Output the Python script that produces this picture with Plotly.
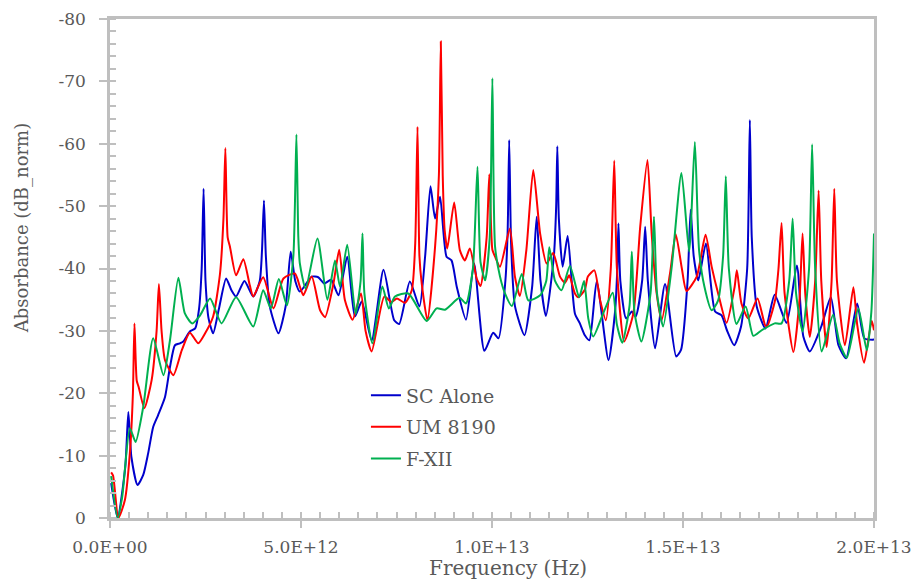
import plotly.graph_objects as go
import numpy as np

# Frequency in THz, absorbance in dB_norm (negative values)
sc_f = [0.03, 0.2, 0.4, 0.48, 0.56, 0.72, 0.87, 1.0, 1.13, 1.26, 1.44, 1.57, 1.70, 1.83, 1.92, 2.09, 2.23,
        2.33, 2.40, 2.45, 2.50, 2.58, 2.70, 2.85, 3.04, 3.18, 3.30, 3.52, 3.75, 3.92, 3.98, 4.03, 4.08, 4.18,
        4.41, 4.60, 4.73, 4.85, 4.97, 5.28, 5.45, 5.61, 5.79, 5.98, 6.21, 6.41, 6.59, 6.85, 7.16, 7.44, 7.57,
        7.85, 8.10, 8.25, 8.39, 8.51, 8.64, 8.81, 8.94, 9.08, 9.32, 9.53, 9.80, 10.03, 10.17, 10.35, 10.41,
        10.45, 10.50, 10.60, 10.85, 11.05, 11.17, 11.27, 11.41, 11.62, 11.68, 11.71, 11.75, 11.85, 11.98,
        12.17, 12.30, 12.43, 12.55, 12.74, 13.05, 13.22, 13.28, 13.31, 13.36, 13.51, 13.66, 13.76, 13.93,
        14.01, 14.08, 14.27, 14.53, 14.82, 14.95, 15.12, 15.20, 15.28, 15.40, 15.60, 15.84, 16.01, 16.15,
        16.34, 16.52, 16.68, 16.75, 16.80, 16.93, 17.16, 17.40, 17.71, 17.98, 18.15, 18.32, 18.62, 18.87,
        19.07, 19.27, 19.56, 19.75, 20.0]
sc_v = [-5.6, 0, -8.2, -17.0, -9.8, -5.3, -6.9, -10.4, -14.6, -16.5, -19.4, -24.2, -27.7, -28.0, -28.3, -29.9, -30.4,
        -33.5, -40, -52.8, -38, -32, -29.6, -33.5, -38.4, -36.5, -35.5, -38.0, -35.5, -38, -43, -50.9, -42, -34,
        -29.6, -34, -42.7, -38, -36.3, -38.7, -38.6, -37.6, -38.2, -35.7, -41.9, -32.3, -34.7, -28.5, -39.8, -31.7, -31.1,
        -37.9, -33.9, -42, -53.2, -48.0, -51.5, -41.9, -41.3, -37, -31.8, -40.8, -26.8, -29.7, -28.8, -38, -46,
        -60.6, -44, -34, -29.3, -37, -48.3, -38, -32.4, -42, -50, -59.6, -48, -40.3, -45.2,
        -32.8, -31.2, -29.3, -28.5, -37.9, -25.3, -33, -40, -47.2, -38, -32.0, -33.1, -32.3, -38,
        -46.7, -38, -27.2, -37.5, -25.9, -27, -38, -49.4, -42, -38.1, -44.0, -33.1, -32.5, -30.1,
        -27.7, -30.7, -40, -63.8, -45, -33.9, -30.4, -35.8, -31.3, -40.5, -29.1, -26.7, -30.7, -35.4,
        -27.7, -25.6, -34.4, -28.8, -28.6]

um_f = [0.03, 0.08, 0.22, 0.39, 0.52, 0.60, 0.64, 0.70, 0.75, 0.90, 1.09, 1.22, 1.28, 1.35, 1.44, 1.66, 1.88,
        2.09, 2.31, 2.49, 2.70, 2.88, 2.97, 3.02, 3.08, 3.14, 3.30, 3.49, 3.66, 3.75, 4.01, 4.28, 4.54, 4.84,
        4.97, 5.06, 5.28, 5.50, 5.63, 5.85, 6.0, 6.15, 6.35, 6.57, 6.69, 6.85, 7.18, 7.37, 7.51, 7.72, 7.90,
        7.99, 8.05, 8.10, 8.16, 8.31, 8.51, 8.61, 8.66, 8.71, 8.76, 8.83, 9.01, 9.16, 9.29, 9.42, 9.60, 9.70,
        9.86, 9.93, 10.01, 10.08, 10.21, 10.47, 10.60, 10.73, 10.90, 11.08, 11.26, 11.43, 11.60, 11.78, 11.91,
        12.02, 12.17, 12.26, 12.43, 12.51, 12.68, 12.83, 12.98, 13.11, 13.20, 13.27, 13.46, 13.70, 13.88,
        14.07, 14.18, 14.31, 14.44, 14.66, 14.81, 14.97, 15.09, 15.36, 15.59, 15.75, 15.92, 16.14, 16.35,
        16.41, 16.53, 16.71, 16.95, 17.15, 17.20, 17.41, 17.50, 17.58, 17.66, 17.89, 18.05, 18.13, 18.20,
        18.32, 18.46, 18.55, 18.62, 18.76, 18.89, 18.96, 19.03, 19.24, 19.46, 19.56, 19.74, 19.94, 20.0]
um_v = [-7.3, -6.8, 0, -2.9, -10.4, -20, -31.2, -22, -21.0, -17.6, -22.1, -30, -37.5, -30, -25.3, -22.9, -26.9,
        -29.7, -28.0, -29.6, -32.3, -39.2, -48, -59.3, -45, -43.5, -38.9, -41.5, -37.3, -35.5, -38.6, -33.6, -38.4, -39.2,
        -37.1, -35.7, -38.7, -33.3, -32.2, -37.6, -43.0, -34.9, -31.8, -36.0, -30, -26.7, -35.5, -34.6, -35.2, -34.5, -36.5,
        -44, -62.7, -42, -37.6, -31.7, -43.5, -55, -76.4, -55, -46.2, -43.2, -50.6, -42.9, -41.3, -43.2, -38.4, -37.2,
        -45, -55.1, -43, -41.9, -40.3, -46.4, -38.7, -35.6, -43, -55.8, -45.6, -40.8, -42.5, -38.7, -37.7,
        -38.9, -36.0, -35.4, -36.6, -38.7, -39.7, -34.9, -31.7, -40, -57.3, -40, -28.3, -32.8, -46.7,
        -57.4, -45.6, -36.0, -31.7, -39.2, -45.5, -40, -36.4, -38.7, -45.4, -40.3, -36.0, -31.3, -37,
        -39.7, -34.4, -32.0, -35.2, -30.9, -30.7, -34.9, -40, -47.3, -36, -26.6, -35, -45.6, -36,
        -29.0, -38, -52.5, -38, -27.4, -38, -52.8, -38, -27.7, -37.0, -31, -24.9, -31.6, -30.1]

fx_f = [0.03, 0.2, 0.32, 0.52, 0.67, 0.87, 1.13, 1.40, 1.57, 1.79, 1.96, 2.15, 2.36, 2.62, 2.92, 3.30, 3.75,
        4.01, 4.21, 4.42, 4.63, 4.80, 4.88, 4.93, 4.97, 5.12, 5.43, 5.69, 5.89, 6.02, 6.21, 6.43, 6.56, 6.61,
        6.66, 6.87, 7.13, 7.30, 7.46, 7.81, 8.29, 8.55, 8.77, 9.15, 9.32, 9.50, 9.62, 9.70, 9.82, 9.94, 10.01,
        10.08, 10.21, 10.34, 10.52, 10.78, 10.95, 11.26, 11.42, 11.50, 11.65, 11.82, 12.04, 12.28, 12.41,
        12.52, 12.65, 12.91, 13.16, 13.27, 13.41, 13.60, 13.66, 13.73, 13.91, 14.15, 14.24, 14.32, 14.48,
        14.70, 14.96, 15.16, 15.31, 15.42, 15.56, 15.75, 15.92, 16.05, 16.12, 16.20, 16.40, 16.64, 16.84,
        17.06, 17.40, 17.58, 17.78, 17.87, 17.96, 18.13, 18.30, 18.38, 18.46, 18.63, 18.93, 19.10, 19.29,
        19.59, 19.81, 19.93, 20.0]
fx_v = [-6.7, 0, -3.4, -14.4, -12.2, -17.8, -28.8, -22.9, -28.5, -38.5, -32.8, -31.2, -32.5, -35.2, -31.2, -35.4, -30.7,
        -36.5, -33.6, -38.3, -34.1, -42, -61.5, -45, -40.8, -36.8, -44.8, -35.0, -41.3, -37.1, -43.8, -32.7, -38, -45.6,
        -36, -28.0, -37.1, -33.6, -35.5, -36.0, -31.6, -33.6, -33.4, -35.3, -34.4, -40, -56.3, -41, -38.1, -45, -70.5,
        -43.5, -38.7, -36.0, -34.0, -39.1, -34.9, -35.7, -38, -43.4, -38, -36.5, -40.4, -35.4, -38.0,
        -32, -29.1, -32.8, -36.1, -31, -28.1, -34, -42.7, -33, -28.3, -36, -48.3, -36, -30.7,
        -40, -55.3, -42.7, -60.3, -43, -37.1, -33.3, -34.9, -42, -54.8, -40, -31.1, -33.9, -29.2,
        -30.1, -31.2, -31.2, -38, -48.0, -36, -29.9, -40, -59.9, -40, -26.7, -32.6, -28, -25.7,
        -33.6, -26.9, -33, -45.6]

series_names = ["SC Alone", "UM 8190", "F-XII"]
series_colors = ["#0000CC", "#FF0000", "#00B050"]

x_tickvals = [0, 5e12, 1e13, 1.5e13, 2e13]
x_ticktext = ["0.0E+00", "5.0E+12", "1.0E+13", "1.5E+13", "2.0E+13"]
y_tickvals = [0, -10, -20, -30, -40, -50, -60, -70, -80]
y_ticktext = ["0", "-10", "-20", "-30", "-40", "-50", "-60", "-70", "-80"]

FONT = "DejaVu Serif"
TXT = "#595959"
AX = "#BFBFBF"

fig = go.Figure()
for i, (f, v) in enumerate([(sc_f, sc_v), (um_f, um_v), (fx_f, fx_v)]):
    fig.add_trace(go.Scatter(
        x=np.array(f) * 1e12, y=v, mode="lines", name=series_names[i],
        legendgroup=series_names[i],
        line=dict(color=series_colors[i], width=2, shape="spline", smoothing=0.6),
    ))

fig.update_layout(
    width=911, height=574,
    margin=dict(l=102, r=45, t=11, b=64, autoexpand=False),
    paper_bgcolor="white", plot_bgcolor="white",
    font=dict(family=FONT, size=17, color=TXT),
    showlegend=True,
    legend=dict(x=0.335, y=0.284, xanchor="left", yanchor="top",
                bgcolor="rgba(0,0,0,0)", font=dict(size=19, color=TXT),
                tracegroupgap=4, traceorder="grouped"),
    annotations=[
        dict(text="Absorbance (dB_norm)", textangle=-90, xref="paper", yref="paper",
             x=-0.115, y=0.581, xanchor="center", yanchor="middle", showarrow=False,
             font=dict(family=FONT, size=18, color=TXT)),
        dict(text="Frequency (Hz)", xref="paper", yref="paper",
             x=0.5204, y=-0.100, xanchor="center", yanchor="middle", showarrow=False,
             font=dict(family=FONT, size=20, color=TXT)),
    ],
)
fig.update_xaxes(
    range=[0, 2e13], tickvals=x_tickvals, ticktext=x_ticktext, automargin=False,
    showgrid=False, zeroline=False, showline=True, linecolor=AX, linewidth=2.5, mirror=True,
    ticks="outside", ticklen=7, tickwidth=2, tickcolor=AX, ticklabelstandoff=5,
    minor=dict(dtick=5e11, tick0=0, ticks="inside", ticklen=6, tickwidth=2, tickcolor=AX),
    tickfont=dict(family=FONT, size=17, color=TXT),
)
fig.update_yaxes(
    range=[0, -80], tickvals=y_tickvals, ticktext=y_ticktext, automargin=False,
    showgrid=False, zeroline=False, showline=True, linecolor=AX, linewidth=2.5, mirror=True,
    ticks="outside", ticklen=8, tickwidth=2, tickcolor=AX, ticklabelstandoff=10,
    minor=dict(dtick=2, tick0=0, ticks="inside", ticklen=6, tickwidth=2, tickcolor=AX),
    tickfont=dict(family=FONT, size=17, color=TXT),
)

fig.write_html("out.html")
